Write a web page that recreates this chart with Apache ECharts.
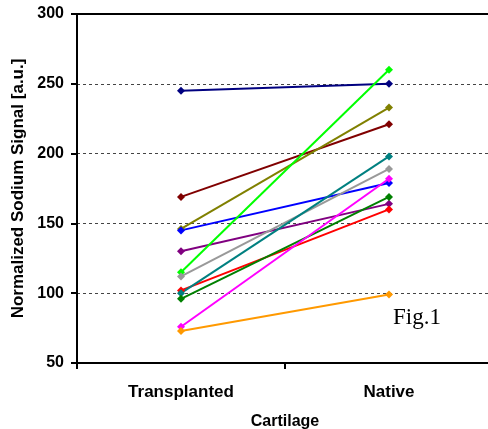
<!DOCTYPE html>
<html>
<head>
<meta charset="utf-8">
<script src="https://cdn.jsdelivr.net/npm/echarts@6/dist/echarts.min.js"></script>
<style>html,body{margin:0;padding:0;background:#fff;}#c{width:488px;height:429px;}</style>
</head>
<body>
<div id="c"></div>
<script>
var categories = ['Transplanted', 'Native'];
var yTicks = [50, 100, 150, 200, 250, 300];
var transplanted = [245, 169, 146, 145, 130, 115, 112, 102, 100, 96, 76, 73];
var native = [250, 221, 233, 179, 164, 260, 189, 160, 198, 169, 182, 99];
var colors = ['#000080', '#800000', '#808000', '#0000FF', '#800080', '#00FF00', '#999999', '#FF0000', '#008080', '#008000', '#FF00FF', '#FF9900'];

var series = transplanted.map(function (t, i) {
  return {
    type: 'line',
    xAxisIndex: 0,
    data: [t, native[i]],
    symbol: 'diamond',
    symbolSize: 8,
    itemStyle: { color: colors[i] },
    lineStyle: { color: colors[i], width: 2 },
    animation: false
  };
});

var chart = echarts.init(document.getElementById('c'));
chart.setOption({
  backgroundColor: '#fff',
  animation: false,
  grid: { left: 77, top: 14, right: -5, bottom: 66, show: false, containLabel: false, outerBoundsMode: 'none' },
  xAxis: [{
    type: 'category',
    data: categories,
    boundaryGap: true,
    name: 'Cartilage',
    nameLocation: 'middle',
    nameGap: 51,
    nameTextStyle: { fontFamily: 'Liberation Sans', fontWeight: 'bold', fontSize: 16, color: '#000' },
    axisLine: { lineStyle: { color: '#000', width: 2 } },
    axisTick: { show: true, inside: false, length: 6, lineStyle: { color: '#000', width: 2 } },
    axisLabel: { margin: 21, fontFamily: 'Liberation Sans', fontWeight: 'bold', fontSize: 17, color: '#000' },
    splitLine: { show: false }
  }, {
    type: 'category',
    data: categories,
    position: 'top',
    axisLine: { show: true, lineStyle: { color: '#000', width: 2 } },
    axisTick: { show: false },
    axisLabel: { show: false },
    splitLine: { show: false }
  }],
  yAxis: {
    type: 'value',
    min: yTicks[0],
    max: yTicks[yTicks.length - 1],
    interval: 50,
    name: 'Normalized Sodium Signal [a.u.]',
    nameLocation: 'middle',
    nameGap: 50,
    nameTextStyle: { fontFamily: 'Liberation Sans', fontWeight: 'bold', fontSize: 17, color: '#000' },
    axisLine: { show: true, lineStyle: { color: '#000', width: 2 } },
    axisTick: { show: true, length: 6, lineStyle: { color: '#000', width: 2 } },
    axisLabel: { margin: 13, fontFamily: 'Liberation Sans', fontWeight: 'bold', fontSize: 16, color: '#000' },
    splitLine: { show: true, lineStyle: { color: '#444', type: [3, 3], width: 1 } }
  },
  graphic: [{
    type: 'text',
    left: 393,
    top: 306,
    style: { text: 'Fig.1', font: '23px "Liberation Serif"', fill: '#000' }
  }],
  series: series
});
</script>
</body>
</html>
